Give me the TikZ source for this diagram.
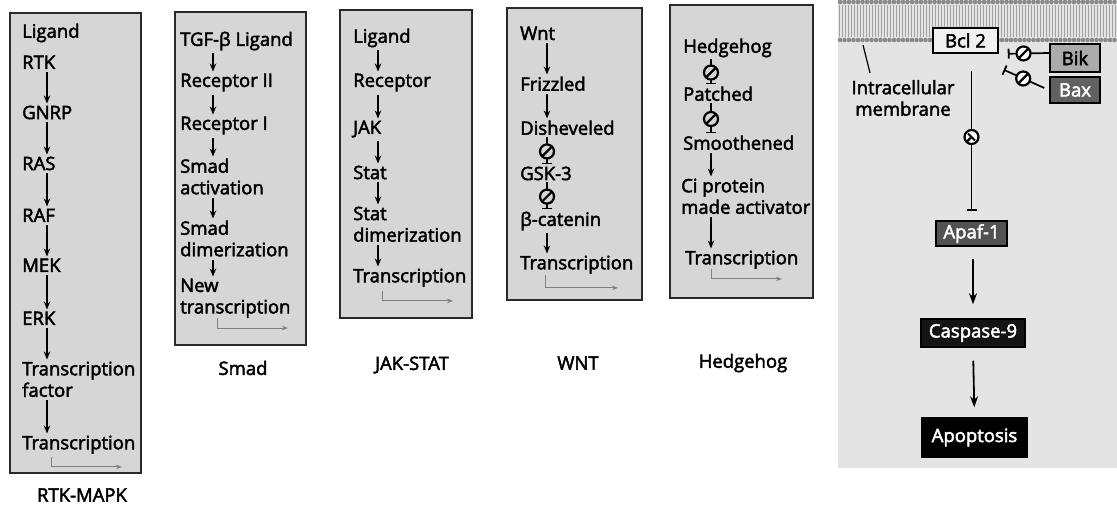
\documentclass[tikz,border=0pt]{standalone}
\usepackage{fontspec}
\setmainfont{Open Sans}[FakeBold=2.5]
\usetikzlibrary{arrows.meta}
\definecolor{boxfill}{HTML}{D6D6D6}
\definecolor{boxline}{HTML}{2A2A2A}
\definecolor{panelbg}{HTML}{E4E4E4}
\definecolor{membr}{HTML}{8A8A8A}
\newcommand\fsz{\fontsize{18.5}{21.5}\selectfont}
\begin{document}
\begin{tikzpicture}[x=1pt,y=-1pt,
  lab/.style={anchor=north west, inner sep=0pt, font=\fsz, align=left, text=black},
  captxt/.style={inner sep=0pt, font=\fsz, text=black},
  pbox/.style={draw=boxline, fill=boxfill, line width=1.8pt},
  arr/.style={line width=1.8pt, -{Stealth[length=8pt,width=6.5pt]}, shorten <=3pt, shorten >=2pt},
  inh/.style={line width=1.7pt, -{Bar[width=10pt,line width=1.8pt]}, shorten <=2pt, shorten >=2pt},
  inhsym/.style={circle, draw, line width=2.2pt, minimum size=14pt, inner sep=0pt, fill=boxfill,
    path picture={\draw[line width=2.2pt] (path picture bounding box.north east) -- (path picture bounding box.south west);}},
  tarr/.style={draw=gray, line width=1pt, -{Stealth[length=6pt,width=4.5pt]}},
  rbox/.style={draw=black, line width=1.5pt, inner sep=0pt, font=\fsz, minimum height=25pt},
  bigarr/.style={line width=1.8pt, -{Stealth[length=11pt,width=8pt]}}
]
\useasboundingbox[fill=white] (0,0) rectangle (1117,505);

% ---------- RTK-MAPK ----------
\draw[pbox] (10,13) rectangle (141,473);
\coordinate (ax1) at (47,0);
\node[lab] (a1) at (22,23.5) {Ligand};
\node[lab] (a2) at (22,55.5) {RTK};
\node[lab] (a3) at (22,105.5) {GNRP};
\node[lab] (a4) at (22,156.5) {RAS};
\node[lab] (a5) at (22,208.5) {RAF};
\node[lab] (a6) at (22,258.5) {MEK};
\node[lab] (a7) at (22,311.5) {ERK};
\node[lab] (a8) at (22,361.5) {Transcription\\factor};
\node[lab] (a9) at (22,435.5) {Transcription};
\foreach \p/\q in {a2/a3,a3/a4,a4/a5,a5/a6,a6/a7,a7/a8,a8/a9}
  \draw[arr] (\p.south -| ax1) -- (\q.north -| ax1);
\draw[tarr] ([xshift=29pt,yshift=-3pt]a9.south west) -- ++(0,10) -- ++(71,0);
\node[captxt] (c1) at (82,495) {RTK-MAPK};

% ---------- Smad ----------
\draw[pbox] (175,12) rectangle (306,345);
\coordinate (ax2) at (213,0);
\node[lab] (b1) at (180,31.5) {TGF-β Ligand};
\node[lab] (b2) at (180,73.5) {Receptor II};
\node[lab] (b3) at (180,116.5) {Receptor I};
\node[lab] (b4) at (180,158.5) {Smad\\activation};
\node[lab] (b5) at (180,220.5) {Smad\\dimerization};
\node[lab] (b6) at (180,278.5) {New\\transcription};
\foreach \p/\q in {b1/b2,b2/b3,b3/b4,b4/b5,b5/b6}
  \draw[arr] (\p.south -| ax2) -- (\q.north -| ax2);
\draw[tarr] ([xshift=37pt,yshift=0pt]b6.south west) -- ++(0,10) -- ++(71,0);
\node[captxt] (c2) at (243,368) {Smad};

% ---------- JAK-STAT ----------
\draw[pbox] (340,10) rectangle (472,318);
\coordinate (ax3) at (378,0);
\node[lab] (j1) at (353,28.5) {Ligand};
\node[lab] (j2) at (353,73.5) {Receptor};
\node[lab] (j3) at (353,120.5) {JAK};
\node[lab] (j4) at (353,165.5) {Stat};
\node[lab] (j5) at (353,206.5) {Stat\\dimerization};
\node[lab] (j6) at (353,268.5) {Transcription};
\foreach \p/\q in {j1/j2,j2/j3,j3/j4,j4/j5,j5/j6}
  \draw[arr] (\p.south -| ax3) -- (\q.north -| ax3);
\draw[tarr] ([xshift=29pt,yshift=-4pt]j6.south west) -- ++(0,10) -- ++(71,0);
\node[captxt] (c3) at (412,365) {JAK-STAT};

% ---------- WNT ----------
\draw[pbox] (507,8) rectangle (642,300);
\coordinate (ax4) at (547,0);
\node[lab] (w1) at (520,26.5) {Wnt};
\node[lab] (w2) at (520,76.5) {Frizzled};
\node[lab] (w3) at (520,120.5) {Disheveled};
\node[lab] (w4) at (520,166.5) {GSK-3};
\node[lab] (w5) at (520,211.5) {β-catenin};
\node[lab] (w6) at (520,255.5) {Transcription};
\draw[arr] (w1.south -| ax4) -- (w2.north -| ax4);
\draw[arr] (w2.south -| ax4) -- (w3.north -| ax4);
\draw[inh] (w3.south -| ax4) -- node[inhsym, pos=0.52] (i1) {} (w4.north -| ax4);
\draw[inh] (w4.south -| ax4) -- node[inhsym, pos=0.52] (i2) {} (w5.north -| ax4);
\draw[arr] (w5.south -| ax4) -- (w6.north -| ax4);
\draw[tarr] ([xshift=25pt,yshift=-1pt]w6.south west) -- ++(0,13) -- ++(73,0);
\node[captxt] (c4) at (578,363) {WNT};

% ---------- Hedgehog ----------
\draw[pbox] (670,5) rectangle (813,298);
\coordinate (ax5) at (711,0);
\node[lab] (h1) at (683,38.5) {Hedgehog};
\node[lab] (h2) at (683,86.5) {Patched};
\node[lab] (h3) at (683,135.5) {Smoothened};
\node[lab] (h4) at (681,178.5) {Ci protein\\made activator};
\node[lab] (h5) at (685,250.5) {Transcription};
\draw[inh] (h1.south -| ax5) -- node[inhsym, pos=0.52] (i3) {} (h2.north -| ax5);
\draw[inh] (h2.south -| ax5) -- node[inhsym, pos=0.52] (i4) {} (h3.north -| ax5);
\draw[arr] (h3.south -| ax5) -- (h4.north -| ax5);
\draw[arr] (h4.south -| ax5) -- (h5.north -| ax5);
\draw[tarr] ([xshift=26pt,yshift=0pt]h5.south west) -- ++(0,10) -- ++(71,0);
\node[captxt] (c5) at (743,363) {Hedgehog};

% ---------- Apoptosis panel ----------
\fill[panelbg] (838,0) rectangle (1117,468);
\foreach \i in {0,...,92} \draw[membr!80, line width=0.8pt] (839+3*\i,5) -- (839+3*\i,37);
\foreach \i in {0,...,61} {
  \fill[membr] (840+4.5*\i,2) circle (2.3);
  \fill[membr] (840+4.5*\i,40) circle (2.3);
}
\node[rbox, fill=white!94!black, minimum width=65pt] (bcl) at (965.5,40.5) {Bcl 2};
\node[rbox, fill=black!33, minimum width=50pt, minimum height=28pt] (bik) at (1075,58) {Bik};
\node[rbox, fill=black!62, text=white, minimum width=50pt, minimum height=26pt] (bax) at (1075,90) {Bax};
\node[rbox, fill=black!68, text=white, minimum width=71pt] (apaf) at (971.5,233.5) {Apaf-1};
\node[rbox, fill=black!92, text=white, minimum width=104pt, minimum height=28pt] (casp) at (973,333) {Caspase-9};
\node[rbox, fill=black, text=white, minimum width=105pt, minimum height=39pt] (apop) at (974.5,437.5) {Apoptosis};
\node[captxt, align=center] (memb) at (903,98) {Intracellular\\membrane};
\coordinate (mtop) at (863,45);
\coordinate (mbot) at (870,73);
\draw[line width=1.2pt] (mtop) -- (mbot);

\draw[inh, shorten <=17pt, shorten >=9pt] (bcl.south -| apaf) -- node[inhsym, fill=white] (i5) {} (apaf.north);
\draw[inh, shorten <=0pt, shorten >=0pt] ([yshift=5pt]bik.west) -- node[inhsym, fill=white, pos=0.62] (i6) {} ([xshift=9pt]bcl.south east);
\draw[inh, shorten <=0pt, shorten >=0pt] ([xshift=-5pt,yshift=2pt]bax.west) -- node[inhsym, fill=white, pos=0.52] (i7) {} ([xshift=5pt,yshift=-16pt]bcl.south east);
\draw[bigarr, shorten <=12pt, shorten >=14pt] (apaf.south -| casp) -- (casp.north);
\draw[bigarr, shorten <=13pt, shorten >=10pt] (casp.south) -- (apop.north);
\end{tikzpicture}
\end{document}
